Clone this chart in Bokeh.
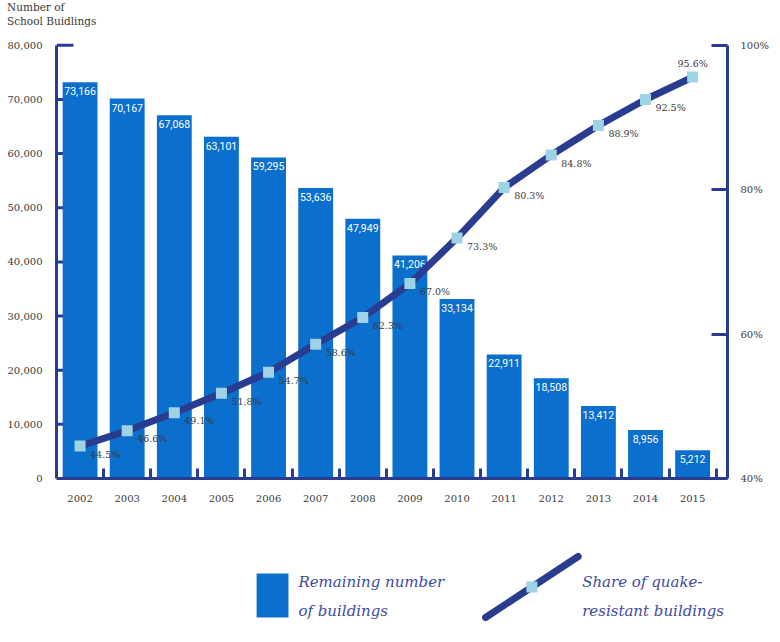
from bokeh.plotting import figure
from bokeh.models import (Range1d, LinearAxis, FixedTicker, NumeralTickFormatter,
                          PrintfTickFormatter, ColumnDataSource, Div)
from bokeh.layouts import column
from bokeh.core.properties import value
from bokeh.embed import file_html
from bokeh.resources import INLINE

# ---------------- data ----------------
years = ["2002", "2003", "2004", "2005", "2006", "2007", "2008",
         "2009", "2010", "2011", "2012", "2013", "2014", "2015"]
remaining = [73166, 70167, 67068, 63101, 59295, 53636, 47949,
             41206, 33134, 22911, 18508, 13412, 8956, 5212]
share = [44.5, 46.6, 49.1, 51.8, 54.7, 58.6, 62.3,
         67.0, 73.3, 80.3, 84.8, 88.9, 92.5, 95.6]
left_ticks = [0, 10000, 20000, 30000, 40000, 50000, 60000, 70000, 80000]
right_ticks = [40, 60, 80, 100]
axis_title = ["Number of", "School Buidlings"]
legend_labels = ["Remaining number\nof buildings", "Share of quake-\nresistant buildings"]

# ---------------- styles ----------------
BAR = "#0b6fcd"
NAVY = "#2a3c8f"
MARK = "#9dd3e4"
TXT = "#3a3a3a"
LEG_TXT = "#3d4b9b"
SERIF = "DejaVu Serif"

idx = list(range(len(years)))
n = len(years)
y_max = left_ticks[-1]
y_end = y_max * 1.0065
pct_lo, pct_hi = right_ticks[0], right_ticks[-1]
pct_end = pct_lo + (pct_hi - pct_lo) * y_end / y_max
x_start, x_end = -0.5, n - 1 + 0.74

x_off = [0 if i == n - 1 else 10 for i in idx]
y_off = [-14 if i == n - 1 else 8 for i in idx]
p_align = ["center" if i == n - 1 else "left" for i in idx]

src = ColumnDataSource(dict(
    x=idx, remaining=remaining, share=share,
    rem_lbl=[f"{v:,}" for v in remaining],
    pct_lbl=[f"{v:.1f}%" for v in share],
    x_off=x_off, y_off=y_off, p_align=p_align,
))

W = 772
H_HDR = 34
B_TOP, B_BOT, B_LEFT, F_RIGHT = 42 - H_HDR, 50, 56, 730
H_MAIN = 528 - H_HDR

# header with the axis title
hdr = Div(text="<br>".join(axis_title), width=W, height=H_HDR, margin=(0, 0, 0, 0),
          styles={"font-family": SERIF, "font-size": "10.5px", "line-height": "13.5px",
                  "color": TXT, "padding-left": "7px", "padding-top": "1px",
                  "box-sizing": "border-box"})

p = figure(width=W, height=H_MAIN, x_range=Range1d(x_start, x_end),
           y_range=Range1d(0, y_end), output_backend="svg",
           toolbar_location=None, min_border_left=B_LEFT, min_border_right=W - F_RIGHT,
           min_border_top=B_TOP, min_border_bottom=B_BOT)
p.outline_line_color = None
p.grid.visible = False
p.background_fill_color = "white"
p.border_fill_color = "white"

# inward ticks on the left axis, drawn beneath the bars
p.segment(x0=[x_start] * len(left_ticks), x1=[x_start + 0.36] * len(left_ticks),
          y0=left_ticks, y1=left_ticks, line_color=NAVY, line_width=3)

# bars
p.vbar(x="x", top="remaining", width=0.74, source=src,
       fill_color=BAR, line_color=None)
p.text(x="x", y="remaining", text="rem_lbl", source=src,
       text_align="center", text_baseline="top", y_offset=5,
       text_color="white", text_font=value("Roboto"), text_font_size="10.5px")

# share line
p.extra_y_ranges = {"pct": Range1d(pct_lo, pct_end)}
p.line(x="x", y="share", source=src, y_range_name="pct",
       line_color=NAVY, line_width=7, line_cap="round", line_join="round")
p.scatter(x="x", y="share", source=src, y_range_name="pct", marker="square",
          size=11, fill_color=MARK, line_color=None)
p.text(x="x", y="share", text="pct_lbl", source=src, y_range_name="pct",
       x_offset="x_off", y_offset="y_off", text_align="p_align",
       text_baseline="middle", text_color=TXT,
       text_font=value(SERIF), text_font_size="9.5px")

# axes
def style_axis(ax):
    ax.axis_line_color = NAVY
    ax.axis_line_width = 3
    ax.major_tick_line_color = NAVY
    ax.major_tick_line_width = 3
    ax.minor_tick_line_color = NAVY
    ax.minor_tick_line_width = 3
    ax.major_label_text_font = SERIF
    ax.major_label_text_font_size = "10px"
    ax.major_label_text_color = TXT

xa = p.xaxis[0]
xa.ticker = FixedTicker(ticks=idx, minor_ticks=[i + 0.5 for i in idx])
xa.major_label_overrides = {i: y for i, y in zip(idx, years)}
style_axis(xa)
xa.major_tick_in = 0
xa.major_tick_out = 0
xa.minor_tick_in = 10
xa.minor_tick_out = 0
xa.major_label_standoff = 16

ya = p.yaxis[0]
ya.ticker = FixedTicker(ticks=left_ticks)
ya.formatter = NumeralTickFormatter(format="0,0")
ya.bounds = (0, y_max)
style_axis(ya)
ya.major_tick_in = 0
ya.major_tick_out = 0
ya.minor_tick_in = 0
ya.minor_tick_out = 0
ya.major_label_standoff = 14

ra = LinearAxis(y_range_name="pct", ticker=FixedTicker(ticks=right_ticks),
                formatter=PrintfTickFormatter(format="%d%%"),
                bounds=(pct_lo, pct_hi))
style_axis(ra)
ra.major_tick_in = 16
ra.major_tick_out = 0
ra.minor_tick_in = 0
ra.minor_tick_out = 0
ra.major_label_standoff = 13
p.add_layout(ra, "right")

# ---------------- legend panel (frame aligned with the chart frame) ----------------
H_LEG = 106
lg = figure(width=W, height=H_LEG, x_range=Range1d(B_LEFT, F_RIGHT),
            y_range=Range1d(H_LEG, 0), output_backend="svg", toolbar_location=None,
            min_border_left=B_LEFT, min_border_right=W - F_RIGHT,
            min_border_top=0, min_border_bottom=0,
            x_axis_location=None, y_axis_location=None)
lg.grid.visible = False
lg.outline_line_color = None

lg.quad(left=[257], right=[289], top=[45], bottom=[89], fill_color=BAR, line_color=None)
lg.segment(x0=[487], y0=[89], x1=[580], y1=[28], line_color=NAVY, line_width=7,
           line_cap="round")
lg.scatter(x=[533.5], y=[58.5], marker="square", size=11, fill_color=MARK, line_color=None)

lines, lx, ly = [], [], []
for lab, x0 in zip(legend_labels, [299, 584]):
    for k, part in enumerate(lab.split("\n")):
        lines.append(part)
        lx.append(x0)
        ly.append(53 + 29 * k)
lg.text(x=lx, y=ly, text=lines, text_align="left", text_baseline="middle",
        text_color=LEG_TXT, text_font=value(SERIF), text_font_size="15px",
        text_font_style="italic")

layout = column(hdr, p, lg)
open("out.html", "w").write(file_html(layout, INLINE))
